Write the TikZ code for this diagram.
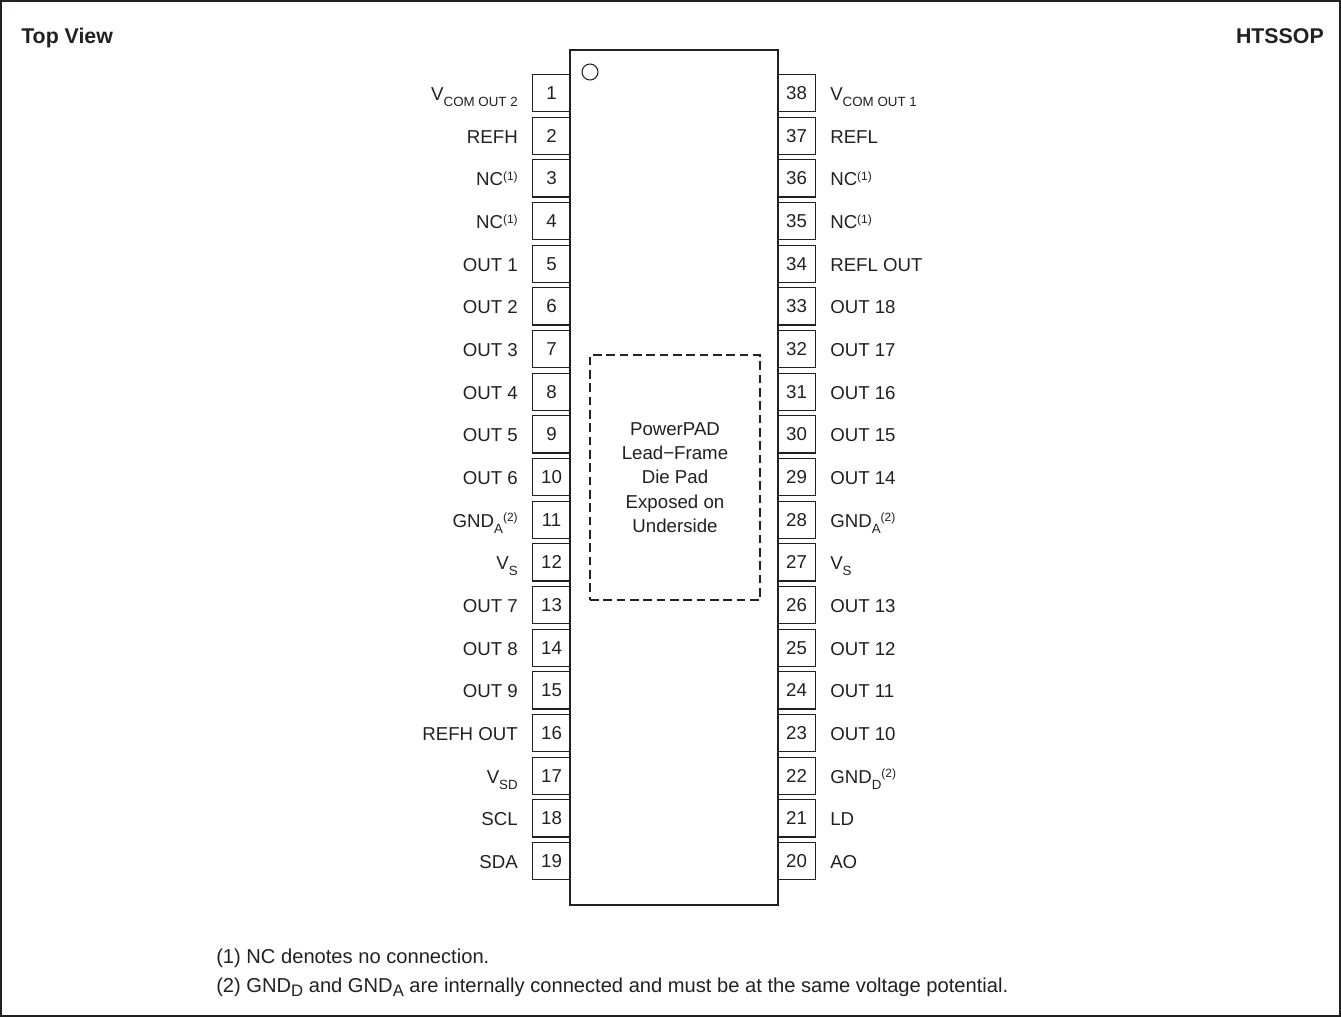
\documentclass[tikz,border=0pt]{standalone}
\usepackage{fontspec}
\setmainfont{Liberation Sans}
\usepackage{xcolor}
\definecolor{inkdark}{rgb}{0.14,0.12,0.13}
\newcommand{\pinsub}[1]{\raisebox{-4.5pt}{\fontsize{10}{10}\selectfont #1}}
\newcommand{\pinsup}[1]{\raisebox{4pt}{\fontsize{9}{9}\selectfont #1}}
\newcommand{\notesub}[1]{\raisebox{-3pt}{\fontsize{12.5}{12.5}\selectfont #1}}
\tikzset{
  pinbox/.style={draw=inkdark,line width=0.8pt,minimum size=28pt,inner sep=0pt,outer sep=0pt,text=inkdark,font=\fontsize{14}{16}\selectfont},
  pinleft/.style={anchor=base east,inner sep=0pt,text=inkdark,font=\fontsize{14}{16}\selectfont},
  pinright/.style={anchor=base west,inner sep=0pt,text=inkdark,font=\fontsize{14}{16}\selectfont},
  headtext/.style={inner sep=0pt,text=inkdark,font=\fontsize{16}{18}\selectfont\bfseries},
  notetext/.style={anchor=base west,inner sep=0pt,text=inkdark,font=\fontsize{15.1}{17}\selectfont},
}
\begin{document}
\begin{tikzpicture}[x=0.75pt,y=0.75pt,yscale=-1,xscale=1]
  \useasboundingbox (0,0) rectangle (1341,1017);

  %Shape: Frame
  \draw [draw=inkdark,line width=1.5pt] (1,1) rectangle (1340,1016);

  % Text Node
  \draw (21,43) node (topview) [headtext,anchor=base west] {Top View};
  % Text Node
  \draw (1324,43) node (package) [headtext,anchor=base east] {HTSSOP};

  %Shape: Left pins
  \draw (551.5,93) node (pin1) [pinbox] {1};
  \draw (551.5,135.7) node (pin2) [pinbox] {2};
  \draw (551.5,178.3) node (pin3) [pinbox] {3};
  \draw (551.5,221) node (pin4) [pinbox] {4};
  \draw (551.5,263.7) node (pin5) [pinbox] {5};
  \draw (551.5,306.3) node (pin6) [pinbox] {6};
  \draw (551.5,349) node (pin7) [pinbox] {7};
  \draw (551.5,391.7) node (pin8) [pinbox] {8};
  \draw (551.5,434.3) node (pin9) [pinbox] {9};
  \draw (551.5,477) node (pin10) [pinbox] {10};
  \draw (551.5,519.7) node (pin11) [pinbox] {11};
  \draw (551.5,562.3) node (pin12) [pinbox] {12};
  \draw (551.5,605) node (pin13) [pinbox] {13};
  \draw (551.5,647.7) node (pin14) [pinbox] {14};
  \draw (551.5,690.3) node (pin15) [pinbox] {15};
  \draw (551.5,733) node (pin16) [pinbox] {16};
  \draw (551.5,775.7) node (pin17) [pinbox] {17};
  \draw (551.5,818.3) node (pin18) [pinbox] {18};
  \draw (551.5,861) node (pin19) [pinbox] {19};

  %Shape: Right pins
  \draw (796.5,93) node (pin38) [pinbox] {38};
  \draw (796.5,135.7) node (pin37) [pinbox] {37};
  \draw (796.5,178.3) node (pin36) [pinbox] {36};
  \draw (796.5,221) node (pin35) [pinbox] {35};
  \draw (796.5,263.7) node (pin34) [pinbox] {34};
  \draw (796.5,306.3) node (pin33) [pinbox] {33};
  \draw (796.5,349) node (pin32) [pinbox] {32};
  \draw (796.5,391.7) node (pin31) [pinbox] {31};
  \draw (796.5,434.3) node (pin30) [pinbox] {30};
  \draw (796.5,477) node (pin29) [pinbox] {29};
  \draw (796.5,519.7) node (pin28) [pinbox] {28};
  \draw (796.5,562.3) node (pin27) [pinbox] {27};
  \draw (796.5,605) node (pin26) [pinbox] {26};
  \draw (796.5,647.7) node (pin25) [pinbox] {25};
  \draw (796.5,690.3) node (pin24) [pinbox] {24};
  \draw (796.5,733) node (pin23) [pinbox] {23};
  \draw (796.5,775.7) node (pin22) [pinbox] {22};
  \draw (796.5,818.3) node (pin21) [pinbox] {21};
  \draw (796.5,861) node (pin20) [pinbox] {20};

  %Shape: Package body
  \draw [draw=inkdark,line width=1.9pt,fill=white] (570,50) rectangle (778,905);
  %Shape: Pin one mark
  \draw [draw=inkdark,line width=0.8pt] (590,72) circle (8);

  % Text Node
  \draw (675,477.5) node (diepad) [draw=inkdark,dash pattern=on 6.5pt off 3.5pt,line width=0.8pt,minimum width=127.5pt,minimum height=183.75pt,inner sep=0pt,text=inkdark,align=center,font=\fontsize{14}{18.3}\selectfont] {PowerPAD\\Lead−Frame\\Die Pad\\Exposed on\\Underside};

  % Text Node
  \draw (518,100.5) node (name1) [pinleft] {V\pinsub{COM OUT 2}};
  \draw (518,143.2) node (name2) [pinleft] {REFH};
  \draw (518,185.8) node (name3) [pinleft] {NC\pinsup{(1)}};
  \draw (518,228.5) node (name4) [pinleft] {NC\pinsup{(1)}};
  \draw (518,271.2) node (name5) [pinleft] {OUT 1};
  \draw (518,313.8) node (name6) [pinleft] {OUT 2};
  \draw (518,356.5) node (name7) [pinleft] {OUT 3};
  \draw (518,399.2) node (name8) [pinleft] {OUT 4};
  \draw (518,441.8) node (name9) [pinleft] {OUT 5};
  \draw (518,484.5) node (name10) [pinleft] {OUT 6};
  \draw (518,527.2) node (name11) [pinleft] {GND\pinsub{A}\pinsup{(2)}};
  \draw (518,569.8) node (name12) [pinleft] {V\pinsub{S}};
  \draw (518,612.5) node (name13) [pinleft] {OUT 7};
  \draw (518,655.2) node (name14) [pinleft] {OUT 8};
  \draw (518,697.8) node (name15) [pinleft] {OUT 9};
  \draw (518,740.5) node (name16) [pinleft] {REFH OUT};
  \draw (518,783.2) node (name17) [pinleft] {V\pinsub{SD}};
  \draw (518,825.8) node (name18) [pinleft] {SCL};
  \draw (518,868.5) node (name19) [pinleft] {SDA};

  % Text Node
  \draw (830,100.5) node (name38) [pinright] {V\pinsub{COM OUT 1}};
  \draw (830,143.2) node (name37) [pinright] {REFL};
  \draw (830,185.8) node (name36) [pinright] {NC\pinsup{(1)}};
  \draw (830,228.5) node (name35) [pinright] {NC\pinsup{(1)}};
  \draw (830,271.2) node (name34) [pinright] {REFL OUT};
  \draw (830,313.8) node (name33) [pinright] {OUT 18};
  \draw (830,356.5) node (name32) [pinright] {OUT 17};
  \draw (830,399.2) node (name31) [pinright] {OUT 16};
  \draw (830,441.8) node (name30) [pinright] {OUT 15};
  \draw (830,484.5) node (name29) [pinright] {OUT 14};
  \draw (830,527.2) node (name28) [pinright] {GND\pinsub{A}\pinsup{(2)}};
  \draw (830,569.8) node (name27) [pinright] {V\pinsub{S}};
  \draw (830,612.5) node (name26) [pinright] {OUT 13};
  \draw (830,655.2) node (name25) [pinright] {OUT 12};
  \draw (830,697.8) node (name24) [pinright] {OUT 11};
  \draw (830,740.5) node (name23) [pinright] {OUT 10};
  \draw (830,783.2) node (name22) [pinright] {GND\pinsub{D}\pinsup{(2)}};
  \draw (830,825.8) node (name21) [pinright] {LD};
  \draw (830,868.5) node (name20) [pinright] {AO};

  % Text Node
  \draw (216,963.5) node (note1) [notetext] {(1) NC denotes no connection.};
  % Text Node
  \draw (216,992.5) node (note2) [notetext] {(2) GND\notesub{D} and GND\notesub{A} are internally connected and must be at the same voltage potential.};
\end{tikzpicture}
\end{document}
